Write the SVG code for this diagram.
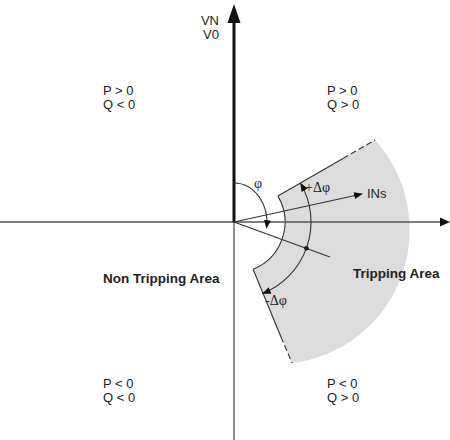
<svg xmlns="http://www.w3.org/2000/svg" width="450" height="440" viewBox="0 0 450 440">
<style>
.t{font-family:"Liberation Sans",Arial,sans-serif;font-size:13px;fill:#222}
.b{font-family:"Liberation Sans",Arial,sans-serif;font-size:13.5px;font-weight:bold;fill:#222}
.g{font-family:"Liberation Serif","DejaVu Serif",serif;font-size:14px;fill:#222}
.ln{fill:none;stroke:#333;stroke-width:1.1}
.dash{fill:none;stroke:#333;stroke-width:1.1;stroke-dasharray:6,3}
</style>
<defs>
<marker id="ah" viewBox="0 0 10 8" refX="9" refY="4" markerWidth="9" markerHeight="7" markerUnits="userSpaceOnUse" orient="auto-start-reverse">
<path d="M0,0 L10,4 L0,8 z" fill="#111"/>
</marker>
</defs>
<rect width="450" height="440" fill="#fff"/>
<g id="tripping-sector">
<path d="M277.9 196.1 L375 140 A134 134 0 0 1 292 363 L253.1 269.3 A51 51 0 0 0 277.9 196.1 Z" fill="#dcdcdc"/>
<line class="ln" x1="277.9" y1="196.1" x2="343" y2="158.5"/>
<line class="dash" x1="343" y1="158.5" x2="375" y2="140"/>
<line class="ln" x1="253.1" y1="269.3" x2="281" y2="337"/>
<line class="dash" x1="281" y1="337" x2="292" y2="363"/>
<path class="ln" d="M277.9 196.1 A51 51 0 0 1 253.1 269.3"/>
</g>
<g id="axes">
<line x1="0" y1="222" x2="441" y2="222" stroke="#555" stroke-width="1.3"/>
<polygon points="440,217.5 450,222 440,226.5" fill="#111"/>
<line x1="234" y1="222" x2="234" y2="440" stroke="#333" stroke-width="1.1"/>
<line x1="234" y1="222" x2="234" y2="22" stroke="#111" stroke-width="3"/>
<polygon points="234,4 227.5,23 240.5,23" fill="#111"/>
</g>
<g id="connectors">
<line class="ln" x1="234" y1="222" x2="362" y2="194" marker-end="url(#ah)"/>
<line class="ln" x1="234" y1="222" x2="330" y2="257"/>
<circle cx="306.4" cy="248.3" r="2.3" fill="#111"/>
<path class="ln" d="M262.8 293.4 A77 77 0 0 0 300.7 183.5" marker-start="url(#ah)" marker-end="url(#ah)"/>
<path class="ln" d="M234 183 A33 39 0 0 1 266.5 228" marker-end="url(#ah)"/>
</g>
<g id="labels">
<text class="t" x="219" y="25" text-anchor="end">VN</text>
<text class="t" x="219" y="39" text-anchor="end">V0</text>
<text class="t" x="103" y="95">P &gt; 0</text>
<text class="t" x="103" y="109">Q &lt; 0</text>
<text class="t" x="327" y="95">P &gt; 0</text>
<text class="t" x="327" y="109">Q &gt; 0</text>
<text class="t" x="103" y="388">P &lt; 0</text>
<text class="t" x="103" y="402">Q &lt; 0</text>
<text class="t" x="327" y="388">P &lt; 0</text>
<text class="t" x="327" y="402">Q &gt; 0</text>
<text class="t" x="367" y="198">INs</text>
<text class="b" x="103" y="283">Non Tripping Area</text>
<text class="b" x="353" y="278">Tripping Area</text>
<text class="g" x="254" y="188">φ</text>
<text class="g" x="305" y="192">+Δφ</text>
<text class="g" x="265" y="305">-Δφ</text>
</g>
</svg>
